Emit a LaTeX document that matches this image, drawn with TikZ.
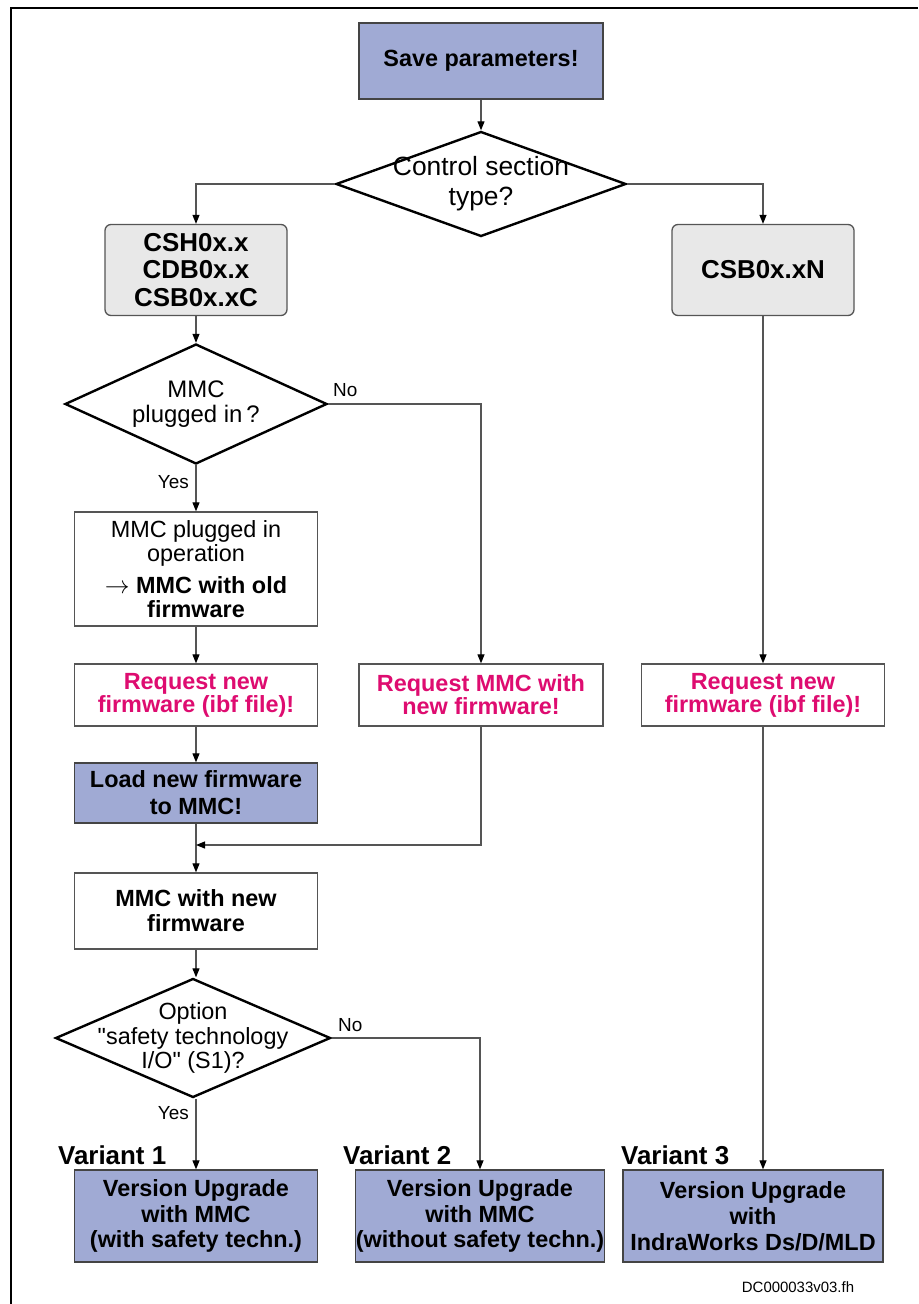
\documentclass[tikz,border=0pt]{standalone}
\usepackage{fontspec}
\setmainfont{Liberation Sans}
\usepackage{tikz}
\usetikzlibrary{shapes.geometric}
\usetikzlibrary{arrows.meta}
\tikzset{>={Triangle[length=9bp,width=7bp,color=black]}}
\definecolor{boxblue}{RGB}{160,170,212}
\definecolor{boxgrey}{RGB}{232,232,232}
\definecolor{reqpink}{RGB}{222,12,112}
\definecolor{edgegrey}{RGB}{85,85,85}
\newcommand{\fsz}[2]{\fontsize{#1}{#2}\selectfont}
\tikzset{
  every node/.style={align=center, font=\fsz{23.5}{24.5}},
  actionbox/.style={draw=edgegrey!80!black, line width=1.3bp, fill=boxblue, inner sep=0pt,
                    font=\bfseries\fsz{23.5}{26}},
  typebox/.style={draw=edgegrey, line width=1.3bp, fill=boxgrey, rounded corners=6bp,
                   inner sep=0pt, minimum width=182bp, minimum height=91bp, font=\bfseries\fsz{26}{27.5}},
  stepbox/.style={draw=edgegrey, line width=1.3bp, fill=white, inner sep=0pt, minimum width=243bp},
  reqbox/.style={stepbox, minimum height=62bp, text=reqpink, font=\bfseries\fsz{23.5}{23}},
  decision/.style={diamond, draw=black, line width=2.4bp, inner sep=-20bp},
  flow/.style={draw=edgegrey, line width=1.1bp, ->},
  answer/.style={font=\fsz{19}{20}, inner sep=0pt},
  varlabel/.style={font=\bfseries\fsz{26}{27}, inner sep=0pt, anchor=west}
}

\begin{document}
\begin{tikzpicture}[x=1bp, y=-1bp]
  \useasboundingbox (0,0) rectangle (918,1304);

  % frame
  \draw[line width=2.5bp] (11,1304) -- (11,8) -- (918,8);

  % top
  \node[actionbox, minimum width=244bp, minimum height=76bp, font=\bfseries\fsz{23.5}{25}] (save) at (481,61) {Save parameters!};
  \node[decision, minimum width=290bp, minimum height=105bp, aspect=2.76, font=\fsz{26.5}{30}] (ctrl) at (481,184) {Control section\\type?};

  % control section types
  \node[typebox] (csh) at (196,270) {CSH0x.x\\CDB0x.x\\CSB0x.xC};
  \node[typebox] (csbn) at (763,270) {CSB0x.xN};

  % left column
  \node[decision, minimum width=262bp, minimum height=120bp, aspect=2.18, font=\fsz{24}{25}] (mmcq) at (196,404) {MMC\\plugged in\,?};
  \node[stepbox, minimum height=114bp] (plugged) at (196,569) {MMC plugged in\\operation\\[7bp]$\rightarrow$ \textbf{MMC with old}\\\textbf{firmware}};
  \node[reqbox] (reqfw) at (196,695) {Request new\\firmware (ibf file)!};
  \node[actionbox, minimum width=243bp, minimum height=60bp, font=\bfseries\fsz{23.5}{27}] (load) at (196,793) {Load new firmware\\to MMC!};
  \coordinate (join) at (196,845);
  \node[stepbox, minimum height=76bp, font=\bfseries\fsz{23.5}{25}] (newfw) at (196,911) {MMC with new\\firmware};
  \node[decision, minimum width=275bp, minimum height=119bp, aspect=2.31, font=\fsz{23.5}{24.5}] (opt) at (193,1038) {Option\\\textquotedbl safety technology\\I/O\textquotedbl{} (S1)?};

  % middle and right columns
  \node[reqbox, minimum width=244bp] (reqmmc) at (481,695) {Request MMC with\\new firmware!};
  \node[reqbox] (reqfw2) at (763,695) {Request new\\firmware (ibf file)!};

  % variants
  \node[actionbox, minimum width=243bp, minimum height=92bp] (v1) at (196,1216) {Version Upgrade\\with MMC\\(with safety techn.)};
  \node[actionbox, minimum width=243bp, minimum height=92bp] (v2) at (480,1216) {Version Upgrade\\with MMC\\(without safety techn.)};
  \node[actionbox, minimum width=260bp, minimum height=92bp] (v3) at (753,1216) {Version Upgrade\\with\\IndraWorks Ds/D/MLD};
  \node[varlabel] (v1lbl) at (58,1155) {Variant 1};
  \node[varlabel] (v2lbl) at (343,1155) {Variant 2};
  \node[varlabel] (v3lbl) at (621,1155) {Variant 3};

  \node[font=\fsz{15}{16}] (docid) at (798,1287) {DC000033v03.fh};

  % save to type
  \draw[flow] (save) -- (ctrl);
  % type to boxes
  \draw[flow] (ctrl.west) -| (csh.north);
  \draw[flow] (ctrl.east) -| (csbn.north);
  % csh to mmc question
  \draw[flow] (csh) -- (mmcq);
  % no mmc
  \draw[flow] (mmcq.east) -| (reqmmc.north);
  \node[answer, anchor=west] (mmcno) at (333,390) {No};
  % mmc plugged
  \draw[flow] (mmcq.south) -- (plugged.north);
  \node[answer, anchor=east] (mmcyes) at (189,482) {Yes};
  \draw[flow] (plugged) -- (reqfw);
  \draw[flow] (reqfw) -- (load);
  \draw[flow] (load) -- (newfw);
  \draw[flow] (reqmmc.south) |- (join);
  % new firmware to option
  \draw[flow] (newfw.south) -- (newfw.south |- opt.north);
  \draw[flow] (opt.east) -| (v2.north);
  \node[answer, anchor=west] (optno) at (338,1025) {No};
  \draw[flow] (newfw.south |- opt.south) -- (v1.north);
  \node[answer, anchor=east] (optyes) at (189,1113) {Yes};
  % csb0x.xN
  \draw[flow] (csbn) -- (reqfw2);
  \draw[flow] (reqfw2.south) -- (reqfw2.south |- v3.north);
\end{tikzpicture}
\end{document}
